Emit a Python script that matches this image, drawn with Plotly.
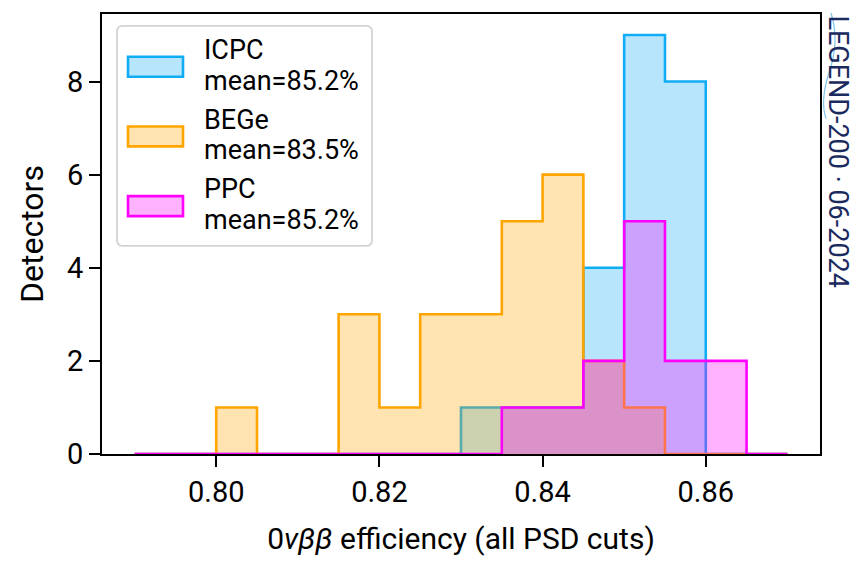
import plotly.graph_objects as go

# ---- data ----
bin_edges = [0.790, 0.795, 0.800, 0.805, 0.810, 0.815, 0.820, 0.825, 0.830,
             0.835, 0.840, 0.845, 0.850, 0.855, 0.860, 0.865, 0.870]
icpc_counts = [0, 0, 0, 0, 0, 0, 0, 0, 1, 1, 1, 4, 9, 8, 0, 0]
bege_counts = [0, 0, 1, 0, 0, 3, 1, 3, 3, 5, 6, 2, 1, 0, 0, 0]
ppc_counts = [0, 0, 0, 0, 0, 0, 0, 0, 0, 1, 1, 2, 5, 2, 2, 0]
series_names = ["ICPC", "BEGe", "PPC"]
series_means = ["85.2%", "83.5%", "85.2%"]
x_ticks = [0.80, 0.82, 0.84, 0.86]
y_ticks = [0, 2, 4, 6, 8]

edge_colors = ["#10ADF5", "#FFA500", "#FF00FF"]
fill_colors = ["rgba(16,173,245,0.3)", "rgba(255,165,0,0.3)", "rgba(255,0,255,0.3)"]

W, H = 858, 562
L, R, T, B = 102, 38, 13, 107
PW, PH = W - L - R, H - T - B


def px(x):
    return (x - L) / PW


def py(y):
    return (H - B - y) / PH


fig = go.Figure()
for name, counts, ec, fc in zip(series_names, [icpc_counts, bege_counts, ppc_counts],
                                edge_colors, fill_colors):
    xs = [bin_edges[0]] + list(bin_edges)
    ys = [0] + list(counts) + [0]
    fig.add_trace(go.Scatter(
        x=xs, y=ys, mode="lines", line=dict(color=ec, width=2.6, shape="hv"),
        fill="tozeroy", fillcolor=fc, name=name, showlegend=False,
        hoverinfo="skip"))

shapes = []
annotations = []

# legend box (rounded)
x0, x1, y0, y1, r = 117, 372, 25, 246, 6
rx, ry = r / PW, r / PH
X0, X1, Y0, Y1 = px(x0), px(x1), py(y1), py(y0)
path = (f"M{X0+rx},{Y0} L{X1-rx},{Y0} Q{X1},{Y0} {X1},{Y0+ry} "
        f"L{X1},{Y1-ry} Q{X1},{Y1} {X1-rx},{Y1} L{X0+rx},{Y1} "
        f"Q{X0},{Y1} {X0},{Y1-ry} L{X0},{Y0+ry} Q{X0},{Y0} {X0+rx},{Y0} Z")
shapes.append(dict(type="path", xref="paper", yref="paper", path=path,
                   fillcolor="rgba(255,255,255,0.8)",
                   line=dict(color="#D3D3D3", width=1.8), layer="above"))
for i, (name, mean, ec, fc) in enumerate(zip(series_names, series_means,
                                              edge_colors, fill_colors)):
    cy = 66 + 70 * i
    shapes.append(dict(type="rect", xref="paper", yref="paper",
                       x0=px(128), x1=px(183), y0=py(cy + 10), y1=py(cy - 10),
                       fillcolor=fc, line=dict(color=ec, width=2.6), layer="above"))
    for j, txt in enumerate([name, f"mean={mean}"]):
        annotations.append(dict(xref="paper", yref="paper", x=px(202),
                                y=py(cy - 17 + 31 * j),
                                xanchor="left", yanchor="middle", align="left",
                                showarrow=False, text=txt,
                                font=dict(size=27, color="black")))

# watermark
annotations.append(dict(xref="paper", yref="paper", x=px(838), y=py(151),
                        xanchor="center", yanchor="middle", showarrow=False,
                        textangle=90, text="LEGEND-200 · 06-2024",
                        font=dict(size=27, color="#1B2A5E",
                                  family="Roboto, sans-serif")))
shapes.append(dict(type="path", xref="paper", yref="paper",
                   path=(f"M{px(831)},{py(12)} Q{px(840)},{py(40)} {px(829)},{py(72)} "
                         f"Q{px(820)},{py(100)} {px(826)},{py(118)}"),
                   line=dict(color="#7FC4EA", width=1.2), layer="above"))

fig.update_layout(
    width=W, height=H,
    margin=dict(l=L, r=R, t=T, b=B),
    paper_bgcolor="white", plot_bgcolor="white",
    font=dict(family="Roboto, sans-serif", color="black", size=29),
    shapes=shapes, annotations=annotations,
    xaxis=dict(range=[0.786, 0.874], tickvals=x_ticks,
               ticktext=[f"{v:.2f}" for v in x_ticks],
               showline=True, linecolor="black", linewidth=1.6, mirror=True,
               ticks="outside", ticklen=11, tickwidth=1.6, tickcolor="black",
               showgrid=False, zeroline=False,
               tickfont=dict(size=29),
               title=dict(text="0<i>νββ</i> efficiency (all PSD cuts)",
                          font=dict(size=30), standoff=20)),
    yaxis=dict(range=[0, 9.45], tickvals=y_ticks,
               showline=True, linecolor="black", linewidth=1.6, mirror=True,
               ticks="outside", ticklen=11, tickwidth=1.6, tickcolor="black",
               showgrid=False, zeroline=False,
               tickfont=dict(size=29),
               title=dict(text="Detectors", font=dict(size=32), standoff=14)),
)

fig.write_html("out.html")
